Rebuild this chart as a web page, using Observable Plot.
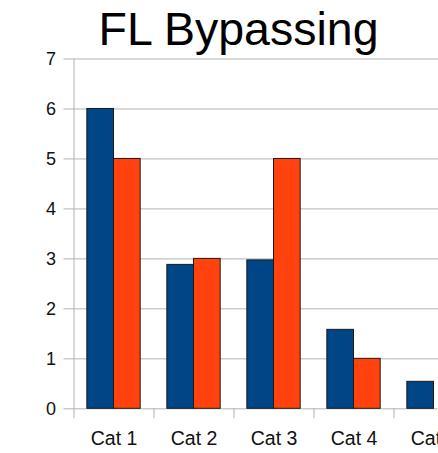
<!DOCTYPE html>
<html><head><meta charset="utf-8">
<script src="https://cdn.jsdelivr.net/npm/d3@7"></script>
<script src="https://cdn.jsdelivr.net/npm/@observablehq/plot@0.6"></script>
<style>
body{margin:0;background:#fff;}
#wrap{position:relative;width:438px;height:453px;overflow:hidden;font-family:"Liberation Sans",Arial,sans-serif;}
#title{position:absolute;left:0;top:5.6px;width:477px;text-align:center;font-size:46.5px;line-height:1;color:#000;}
#chart{position:absolute;left:0;top:0;width:480px;}
#chart svg{max-width:none !important;width:480px;height:453px;}
</style></head><body>
<div id="wrap"><div id="chart"></div><div id="title">FL Bypassing</div></div>
<script>
const categories = ["Cat 1","Cat 2","Cat 3","Cat 4","Cat 5"];
const series1 = [6, 2.88, 2.97, 1.58, 0.54];
const series2 = [5, 3, 5, 1, null];
const seriesNames = ["Series 1","Series 2"];
const colors = ["#004586","#ff420e"];
const yTicks = [0,1,2,3,4,5,6,7];

const data = categories.flatMap((c,i)=>[
  {i, cat:c, s:0, series:seriesNames[0], value:series1[i]},
  {i, cat:c, s:1, series:seriesNames[1], value:series2[i]}
]).filter(d=>d.value!=null);

const boundaries = d3.range(0, categories.length + 1);
const centers = categories.map((c,i)=>i + 0.5);

const chart = Plot.plot({
  width: 480,
  height: 453,
  marginLeft: 73.5,
  marginRight: 6.5,
  marginTop: 58.5,
  marginBottom: 44.7,
  style: {fontFamily: '"Liberation Sans", Arial, sans-serif', background: "#fff", maxWidth: "none"},
  x: {domain: [0, categories.length], axis: null},
  y: {domain: [0, 7], axis: null},
  color: {domain: seriesNames, range: colors},
  marks: [
    Plot.gridY({ticks: yTicks, stroke: "#b3b3b3", strokeOpacity: 1}),
    Plot.ruleX([0], {y1: 0, y2: 7, stroke: "#b3b3b3"}),
    Plot.axisY({ticks: yTicks, tickSize: 10, tickPadding: 8, fontSize: 18, stroke: "#b3b3b3", fill: "#111", tickFormat: d => String(d), label: null}),
    Plot.axisX({ticks: boundaries, tickSize: 10, tickFormat: () => "", stroke: "#b3b3b3", label: null}),
    Plot.axisX({ticks: centers, tickSize: 0, tickPadding: 22.5, fontSize: 19.5, fill: "#111", tickFormat: v => categories[Math.floor(v)], label: null}),
    Plot.rectY(data, {
      x1: d => d.i + (d.s === 0 ? 1/6 : 1/2),
      x2: d => d.i + (d.s === 0 ? 1/2 : 5/6),
      y: "value",
      fill: "series",
      stroke: "#1a1a1a",
      strokeWidth: 1
    })
  ]
});
document.getElementById("chart").appendChild(chart);
</script>
</body></html>
